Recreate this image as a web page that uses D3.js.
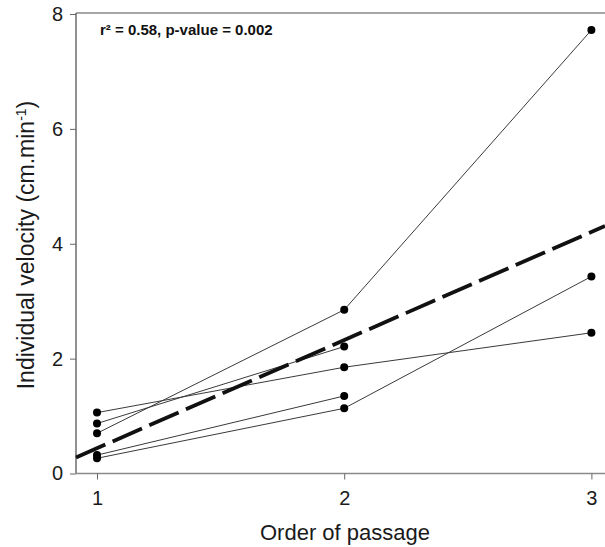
<!DOCTYPE html>
<html>
<head>
<meta charset="utf-8">
<script src="https://cdn.jsdelivr.net/npm/d3@7"></script>
<style>
html,body{margin:0;padding:0;background:#fff;}
svg{display:block;font-family:"Liberation Sans",Arial,sans-serif;}
</style>
</head>
<body>
<svg id="chart" width="605" height="547"></svg>
<script>
// ---- data ----
const xCategories = [1, 2, 3];
const seriesA = [1.06, 1.85, 2.45];
const seriesB = [0.87, 2.21];
const seriesC = [0.70, 2.85, 7.72];
const seriesD = [0.32, 1.35];
const seriesE = [0.265, 1.135, 3.43];
const yTicks = [0, 2, 4, 6, 8];
const xTicks = [1, 2, 3];
const regSlope = 1.883;
const regIntercept = -1.443;
const annotation = "r\u00B2 = 0.58, p-value = 0.002";

const allSeries = [seriesA, seriesB, seriesC, seriesD, seriesE];

(function () {
const svg = d3.select("#chart");
const pLeft = 76, pRight = 605, pTop = 13, pBottom = 473.5;

const x = d3.scaleLinear().domain([0.915, 3.055]).range([pLeft, pRight]);
const y = d3.scaleLinear().domain([0, 8]).range([pBottom, 14]);

// frame: top line
svg.append("line").attr("x1", pLeft).attr("x2", pRight).attr("y1", pTop).attr("y2", pTop)
  .attr("stroke", "#8a8a8a").attr("stroke-width", 1.5);

// axes
const yAxis = d3.axisLeft(y).tickValues(yTicks).tickSize(6).tickPadding(7).tickFormat(d3.format("d"));
const xAxis = d3.axisBottom(x).tickValues(xTicks).tickSize(6).tickPadding(11).tickFormat(d3.format("d"));

const gy = svg.append("g").attr("transform", `translate(${pLeft},0)`).call(yAxis);
gy.select(".domain").attr("d", `M0,${pTop}V${pBottom}`).attr("stroke", "#555").attr("stroke-width", 1.3);
const gx = svg.append("g").attr("transform", `translate(0,${pBottom})`).call(xAxis);
gx.select(".domain").attr("d", `M${pLeft},0H${pRight}`).attr("stroke", "#8a8a8a").attr("stroke-width", 1.5);

[gx, gy].forEach(g => {
  g.selectAll(".tick line").attr("stroke", "#666");
  g.selectAll(".tick text").attr("fill", "#1a1a1a").style("font-size", "20px")
    .style("font-family", "'Liberation Sans',Arial,sans-serif");
});

// series lines
const line = d3.line().x((d, i) => x(xCategories[i])).y(d => y(d));
allSeries.forEach(s => {
  svg.append("path").datum(s).attr("d", line)
    .attr("fill", "none").attr("stroke", "#3a3a3a").attr("stroke-width", 1);
});

// regression line
const regX = x.domain();
svg.append("line")
  .attr("x1", x(regX[0])).attr("y1", y(regIntercept + regSlope * regX[0]))
  .attr("x2", x(regX[1])).attr("y2", y(regIntercept + regSlope * regX[1]))
  .attr("stroke", "#111").attr("stroke-width", 3.8)
  .attr("stroke-dasharray", "32,8");

// points
allSeries.forEach(s => {
  svg.append("g").selectAll("circle").data(s).join("circle")
    .attr("cx", (d, i) => x(xCategories[i])).attr("cy", d => y(d))
    .attr("r", 4).attr("fill", "#000");
});

// annotation
svg.append("text").attr("x", 100).attr("y", 35)
  .attr("fill", "#111").style("font-size", "15px").style("font-weight", "bold")
  .text(annotation);

// axis titles
svg.append("text").attr("x", 345).attr("y", 540).attr("text-anchor", "middle")
  .attr("fill", "#1a1a1a").style("font-size", "22px").text("Order of passage");

const yt = svg.append("text").attr("transform", `translate(34,245) rotate(-90)`)
  .attr("text-anchor", "middle").attr("fill", "#1a1a1a").style("font-size", "23px");
yt.append("tspan").text("Individual velocity (cm.min");
yt.append("tspan").attr("dy", -8).style("font-size", "14px").text("-1");
yt.append("tspan").attr("dy", 8).text(")");
})();
</script>
</body>
</html>
